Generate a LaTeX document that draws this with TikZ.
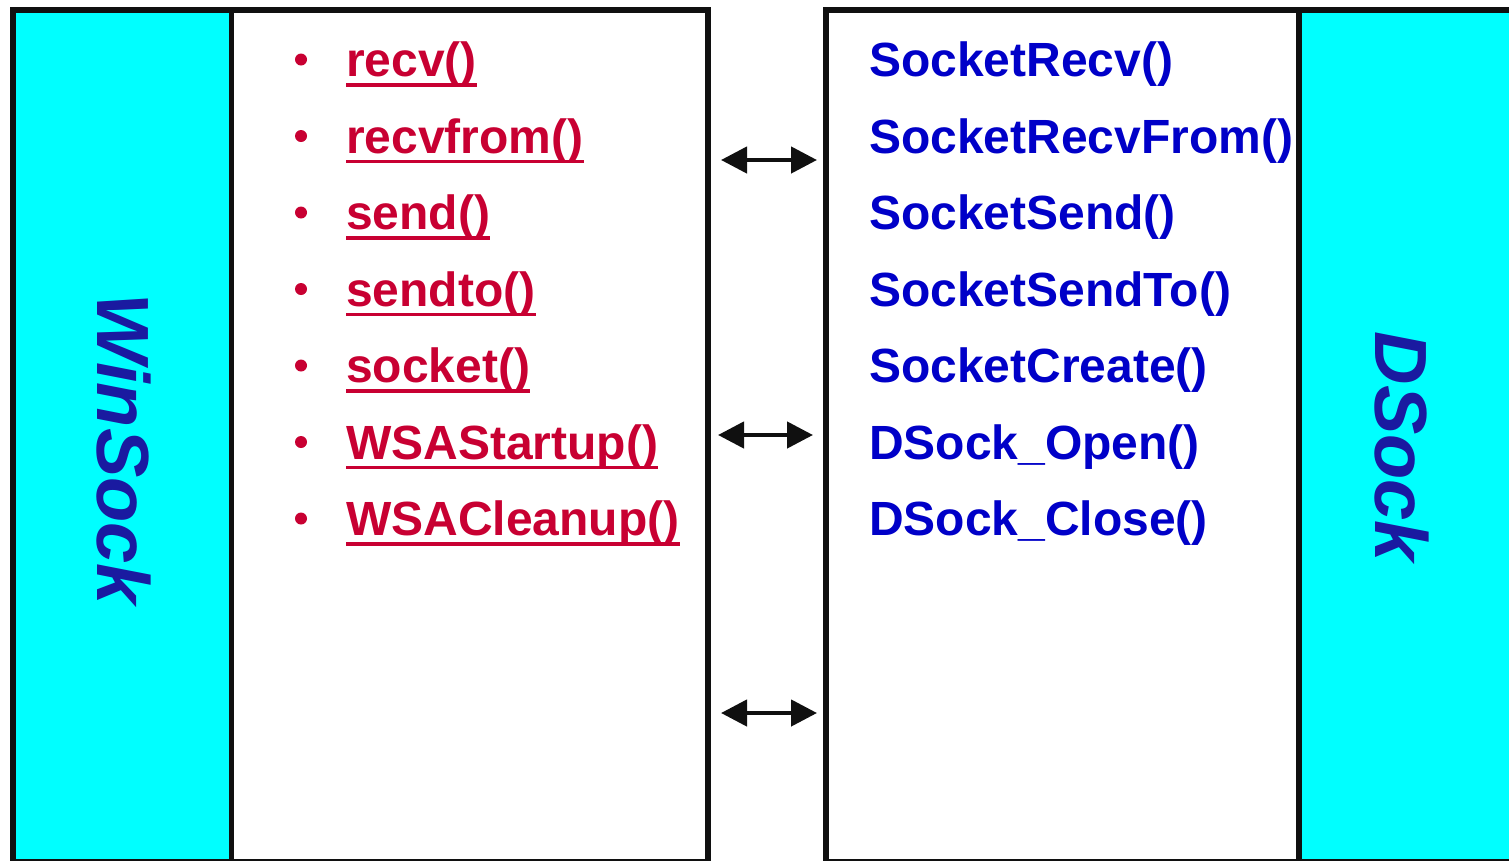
\documentclass[tikz,border=0pt]{standalone}
\usepackage{fontspec}
\setmainfont{Liberation Sans}
\usetikzlibrary{arrows.meta,calc}
\definecolor{aqua}{RGB}{0,255,255}
\definecolor{callred}{RGB}{200,0,50}
\definecolor{callblue}{RGB}{0,0,200}
\definecolor{layerblue}{RGB}{26,26,160}
\definecolor{edge}{RGB}{16,16,16}
\begin{document}
\begin{tikzpicture}[x=1pt,y=-1pt,
  frame/.style={draw=edge, line width=6pt},
  divider/.style={draw=edge, line width=5.5pt},
  call/.style={anchor=base west, inner sep=0pt, font=\fontsize{48}{48}\selectfont\bfseries},
  wscall/.style={call, text=callred},
  dscall/.style={call, text=callblue},
  uline/.style={draw=callred, line width=3.3pt},
  layer/.style={rotate=-90, anchor=base, inner sep=0pt, text=layerblue,
    font=\fontsize{74}{74}\selectfont\bfseries\itshape},
  bulletdot/.style={circle, fill=callred, inner sep=0pt, minimum size=12pt},
  link/.style={draw=edge, line width=4.5pt,
    {Triangle[length=26pt,width=26pt]}-{Triangle[length=26pt,width=26pt]}},
]
\useasboundingbox (0,0) rectangle (1509,860);
\clip (0,0) rectangle (1509,860);
\fill[white] (0,0) rectangle (1509,860);

% layer panels
\fill[aqua] (13,10) rectangle (231.5,861);
\fill[aqua] (1299,10) rectangle (1530,861);

% frames and dividers
\draw[frame] (13,10) rectangle (707.5,862);
\draw[frame] (825.5,10) rectangle (1540,862);
\draw[divider] (231.5,10) -- (231.5,862);
\draw[divider] (1299,10) -- (1299,862);

% layer names
\node[layer] (winsock) at (97,449) {WinSock};
\node[layer] (dsock) at (1375,447) {DSock};

% WinSock calls
\foreach \i/\txt in {1/recv(),2/recvfrom(),3/send(),4/sendto(),5/socket(),6/WSAStartup(),7/WSACleanup()}{
  \pgfmathsetmacro{\yb}{76.5+76.5*(\i-1)}
  \node[bulletdot] (b\i) at (301,\yb-17) {};
  \node[wscall] (w\i) at (346,\yb) {\txt};
  \draw[uline] ($(w\i.base west)+(0,8.5)$) -- ($(w\i.base east)+(0,8.5)$);
}

% DSock calls
\foreach \i/\txt in {1/SocketRecv(),2/SocketRecvFrom(),3/SocketSend(),4/SocketSendTo(),5/SocketCreate(),6/DSock\_Open(),7/DSock\_Close()}{
  \pgfmathsetmacro{\yb}{76.5+76.5*(\i-1)}
  \node[dscall] (d\i) at (869,\yb) {\txt};
}

% links between the two layers
\coordinate (la) at (721,160);  \coordinate (ra) at (817,160);
\coordinate (lb) at (718,435);  \coordinate (rb) at (813,435);
\coordinate (lc) at (721,713);  \coordinate (rc) at (817,713);
\draw[link] (la) -- (ra);
\draw[link] (lb) -- (rb);
\draw[link] (lc) -- (rc);
\end{tikzpicture}
\end{document}
